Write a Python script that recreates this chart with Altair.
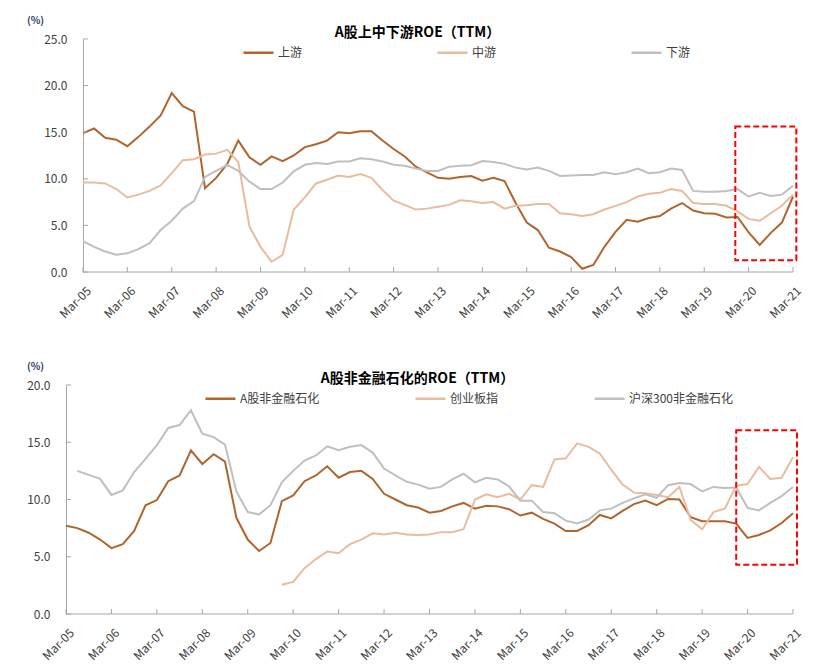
import json
import pandas as pd
import altair as alt

# ---------------------------------------------------------------
# 数据（季度，Mar-05 ~ Mar-21）
# ---------------------------------------------------------------
years = ['05', '06', '07', '08', '09', '10', '11', '12', '13',
         '14', '15', '16', '17', '18', '19', '20', '21']
months = ['Mar', 'Jun', 'Sep', 'Dec']
quarters = [m + '-' + y for y in years for m in months][:65]
tick_labels = ['Mar-' + y for y in years]

# 图一：A股上中下游ROE（TTM）
upstream = [14.9, 15.4, 14.4, 14.2, 13.5, 14.5, 15.6, 16.8, 19.2, 17.8, 17.2, 9.0,
            10.1, 11.6, 14.1, 12.3, 11.5, 12.4, 11.9, 12.5, 13.4, 13.7, 14.1, 15.0,
            14.9, 15.1, 15.1, 14.1, 13.2, 12.4, 11.3, 10.7, 10.1, 10.0, 10.2, 10.3,
            9.8, 10.1, 9.75, 7.4, 5.3, 4.5, 2.6, 2.2, 1.6, 0.35, 0.75, 2.7,
            4.3, 5.6, 5.4, 5.8, 6.0, 6.8, 7.4, 6.6, 6.3, 6.25, 5.85, 5.9,
            4.25, 2.9, 4.2, 5.3, 8.1]
midstream = [9.6, 9.6, 9.5, 8.9, 8.0, 8.3, 8.7, 9.3, 10.6, 12.0, 12.1, 12.6,
             12.7, 13.1, 11.8, 4.9, 2.7, 1.1, 1.85, 6.7, 8.0, 9.5, 9.9, 10.35,
             10.2, 10.5, 10.1, 8.8, 7.65, 7.2, 6.7, 6.8, 7.0, 7.2, 7.7, 7.6,
             7.4, 7.5, 6.8, 7.1, 7.15, 7.3, 7.3, 6.3, 6.2, 6.0, 6.2, 6.7,
             7.1, 7.5, 8.1, 8.4, 8.5, 8.9, 8.7, 7.4, 7.3, 7.3, 7.1, 6.5,
             5.7, 5.5, 6.3, 7.1, 8.3]
downstream = [3.3, 2.7, 2.2, 1.85, 2.0, 2.45, 3.1, 4.5, 5.5, 6.8, 7.6, 10.2,
              10.85, 11.5, 10.85, 9.7, 8.9, 8.9, 9.6, 10.8, 11.5, 11.7, 11.6, 11.85,
              11.85, 12.2, 12.1, 11.85, 11.5, 11.4, 11.1, 10.85, 10.85, 11.3, 11.4, 11.45,
              11.9, 11.8, 11.6, 11.2, 11.0, 11.2, 10.85, 10.3, 10.35, 10.4, 10.4, 10.7,
              10.5, 10.7, 11.1, 10.6, 10.7, 11.1, 10.95, 8.7, 8.6, 8.6, 8.7, 8.9,
              8.1, 8.5, 8.15, 8.3, 9.25]

# 图二：A股非金融石化的ROE（TTM）
ashare_exfin = [7.7, 7.5, 7.1, 6.5, 5.75, 6.1, 7.25, 9.5, 9.95, 11.6, 12.1, 14.3,
                13.1, 13.95, 13.3, 8.4, 6.5, 5.5, 6.2, 9.85, 10.35, 11.6, 12.1, 12.9,
                11.9, 12.4, 12.5, 11.8, 10.5, 10.0, 9.5, 9.3, 8.85, 9.0, 9.4, 9.7,
                9.2, 9.45, 9.4, 9.15, 8.6, 8.85, 8.3, 7.9, 7.25, 7.25, 7.75, 8.65,
                8.35, 9.0, 9.6, 9.9, 9.5, 10.05, 10.0, 8.45, 8.1, 8.1, 8.1, 7.9,
                6.65, 6.9, 7.3, 7.95, 8.8]
chinext = [None] * 19 + [
    2.55, 2.8, 4.0, 4.8, 5.45, 5.3, 6.1, 6.5, 7.05, 6.95, 7.1, 6.95, 6.9,
    6.95, 7.15, 7.15, 7.4, 10.0, 10.45, 10.2, 10.5, 10.0, 11.25, 11.1, 13.5,
    13.6, 14.9, 14.6, 14.0, 12.6, 11.3, 10.6, 10.55, 10.4, 10.2, 11.1, 8.2,
    7.4, 8.9, 9.2, 11.2, 11.35, 12.85, 11.8, 11.9, 13.7]
hs300_exfin = [None, 12.5, 12.15, 11.8, 10.4, 10.8, 12.4, 13.55, 14.75, 16.25, 16.5, 17.8,
               15.75, 15.45, 14.8, 10.7, 8.9, 8.7, 9.5, 11.5, 12.5, 13.4, 13.85, 14.65,
               14.3, 14.6, 14.75, 14.1, 12.7, 12.1, 11.55, 11.3, 10.95, 11.1, 11.75, 12.25,
               11.5, 11.9, 11.75, 11.15, 9.9, 9.9, 8.9, 8.8, 8.15, 7.9, 8.25, 9.05,
               9.2, 9.7, 10.1, 10.45, 10.15, 11.25, 11.45, 11.35, 10.7, 11.1, 11.0, 11.05,
               9.27, 9.05, 9.7, 10.3, 11.1]

# 红色虚线框（季度序号范围, ROE范围）
box_top = [58.8, 64.3, 1.25, 15.6]
box_bottom = [59.0, 64.35, 4.3, 16.05]

COLORS = ['#B0652F', '#E8BC9C', '#BFBFBF']
AXIS_GRAY = '#A6A6A6'
LABEL_GRAY = '#404040'
FONT = 'Noto Sans CJK SC'
W = 727


def to_long(series):
    rows = []
    for name, vals in series.items():
        for i, v in enumerate(vals):
            if v is not None:
                rows.append({'idx': i, '季度': quarters[i], '系列': name, 'ROE': v})
    return pd.DataFrame(rows)


def panel(series, title, y_max, height, x_start, legend_x, col_pad, box, title_x):
    names = list(series.keys())
    df = to_long(series)
    px_per_q = W / (64 - x_start)
    y_offset = -round(-x_start * px_per_q)
    tick_idx = [4 * i for i in range(len(tick_labels))]
    y_vals = [v * 5.0 for v in range(int(y_max / 5) + 1)]
    x_scale = alt.Scale(domain=[x_start, 64], nice=False, zero=False)
    y_scale = alt.Scale(domain=[0, y_max], nice=False)

    lines = alt.Chart(df).mark_line(strokeWidth=2).encode(
        x=alt.X('idx:Q', scale=x_scale, axis=alt.Axis(
            values=tick_idx, labelExpr=json.dumps(tick_labels) + '[datum.value / 4]',
            labelAngle=-45, labelAlign='right', labelBaseline='top',
            domain=False, ticks=False, grid=False, title=None,
            labelFontSize=12, labelColor=LABEL_GRAY, labelPadding=13, labelOffset=2)),
        y=alt.Y('ROE:Q', scale=y_scale, axis=alt.Axis(
            values=y_vals, format='.1f', grid=False, ticks=False, offset=y_offset,
            domainColor=AXIS_GRAY, labelFontSize=12, labelColor=LABEL_GRAY, labelPadding=16,
            title='(%)', titleAngle=0, titleAlign='center', titleBaseline='middle',
            titleX=title_x, titleY=-19, titleFontSize=10, titleFontWeight='bold',
            titleColor='#1F3864')),
        color=alt.Color('系列:N', scale=alt.Scale(domain=names, range=COLORS),
                        legend=alt.Legend(title=None, orient='none', direction='horizontal',
                                          legendX=legend_x, legendY=-3,
                                          symbolType='stroke', symbolSize=900,
                                          symbolStrokeWidth=2.5, labelFontSize=12,
                                          labelColor=LABEL_GRAY, labelOffset=3,
                                          columnPadding=col_pad, labelLimit=300)),
    )

    # x 轴线
    base_line = alt.Chart(pd.DataFrame({'idx': [0], 'idx2': [64]})).mark_rule(
        color=AXIS_GRAY, strokeWidth=1).encode(
        x='idx:Q', x2='idx2:Q', y=alt.datum(0))

    # 向内的刻度线
    x_ticks = alt.Chart(pd.DataFrame({'idx': tick_idx})).mark_rule(
        color=AXIS_GRAY).encode(
        x='idx:Q', y=alt.datum(0), y2=alt.datum(y_max * 5.0 / height))
    y_ticks = alt.Chart(pd.DataFrame({'ROE': y_vals})).mark_rule(
        color=AXIS_GRAY).encode(
        y='ROE:Q', x=alt.datum(0), x2=alt.datum(5.0 / px_per_q))

    frame = alt.Chart(pd.DataFrame({'idx': [box[0]], 'idx2': [box[1]],
                                    'ROE': [box[2]], 'ROE2': [box[3]]})).mark_rect(
        fillOpacity=0, stroke='#FF0000', strokeWidth=2, strokeDash=[6, 3]).encode(
        x='idx:Q', x2='idx2:Q', y='ROE:Q', y2='ROE2:Q')

    return alt.layer(lines, base_line, x_ticks, y_ticks, frame).properties(
        width=W, height=height,
        title=alt.TitleParams(title, anchor='middle', fontSize=14, fontWeight='bold',
                              color='#000000', offset=-39, dx=-12, baseline='bottom'))


top = panel({'上游': upstream, '中游': midstream, '下游': downstream},
            'A股上中下游ROE（TTM）', 25, 233, -1.532, 176, 129, box_top, -48)
bottom = panel({'A股非金融石化': ashare_exfin, '创业板指': chinext,
                '沪深300非金融石化': hs300_exfin},
               'A股非金融石化的ROE（TTM）', 20, 229, 0, 138, 90, box_bottom, -31)

chart = alt.vconcat(top, bottom, spacing=41).resolve_scale(
    x='independent', y='independent', color='independent'
).resolve_legend(color='independent').properties(
    padding={'left': 18, 'top': 7, 'right': 5, 'bottom': 0}
).configure(font=FONT).configure_view(stroke=None)

chart.save('out.html', embed_options={'renderer': 'svg', 'actions': False})
